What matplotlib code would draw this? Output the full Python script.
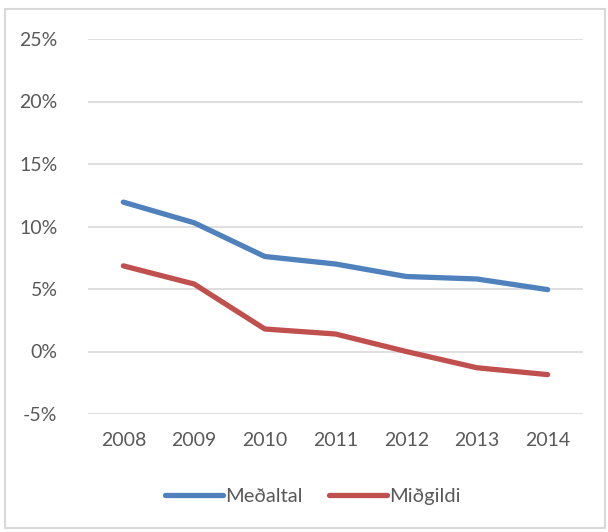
import matplotlib
matplotlib.use("Agg")
import matplotlib.pyplot as plt
from matplotlib.patches import Rectangle
from matplotlib.ticker import FuncFormatter

years = ["2008", "2009", "2010", "2011", "2012", "2013", "2014"]
medaltal = [11.95, 10.3, 7.6, 7.0, 6.0, 5.8, 4.95]
midgildi = [6.85, 5.4, 1.8, 1.4, 0.0, -1.3, -1.85]
yticks = [-5, 0, 5, 10, 15, 20, 25]

plt.rcParams['font.family'] = ['Lato', 'DejaVu Sans']
txt = '#595959'

fig = plt.figure(figsize=(6.08, 5.32), dpi=100)
fig.patches.append(Rectangle((5/608, 4/532), 600/608, 519/532, transform=fig.transFigure,
                             fill=False, edgecolor='#d9d9d9', linewidth=1.5))
ax = fig.add_axes([88/608, 1 - 414/532, 495/608, 375/532])

x = list(range(len(years)))
ax.plot(x, medaltal, color='#4F81BD', lw=3.8, solid_capstyle='round', solid_joinstyle='round', label='Meðaltal')
ax.plot(x, midgildi, color='#C0504D', lw=3.8, solid_capstyle='round', solid_joinstyle='round', label='Miðgildi')

ax.set_xlim(-0.5, len(years) - 0.5)
ax.set_ylim(-5, 25)
ax.set_yticks(yticks)
ax.yaxis.set_major_formatter(FuncFormatter(lambda v, p: f"{int(v)}%"))
ax.set_xticks(x)
ax.set_xticklabels(years)
ax.grid(axis='y', color='#d9d9d9', lw=1.2)
ax.set_axisbelow(True)
for s in ax.spines.values():
    s.set_visible(False)
ax.tick_params(axis='both', length=0, labelsize=14, colors=txt)
ax.tick_params(axis='y', pad=22)
ax.tick_params(axis='x', pad=13)

leg = fig.legend(loc='center', bbox_to_anchor=(313/608, 1 - 496/532), ncol=2, frameon=False,
                 fontsize=14.5, handlelength=2.9, handletextpad=0.1, columnspacing=1.3)
for t in leg.get_texts():
    t.set_color(txt)

fig.savefig("out.png", dpi=100)
